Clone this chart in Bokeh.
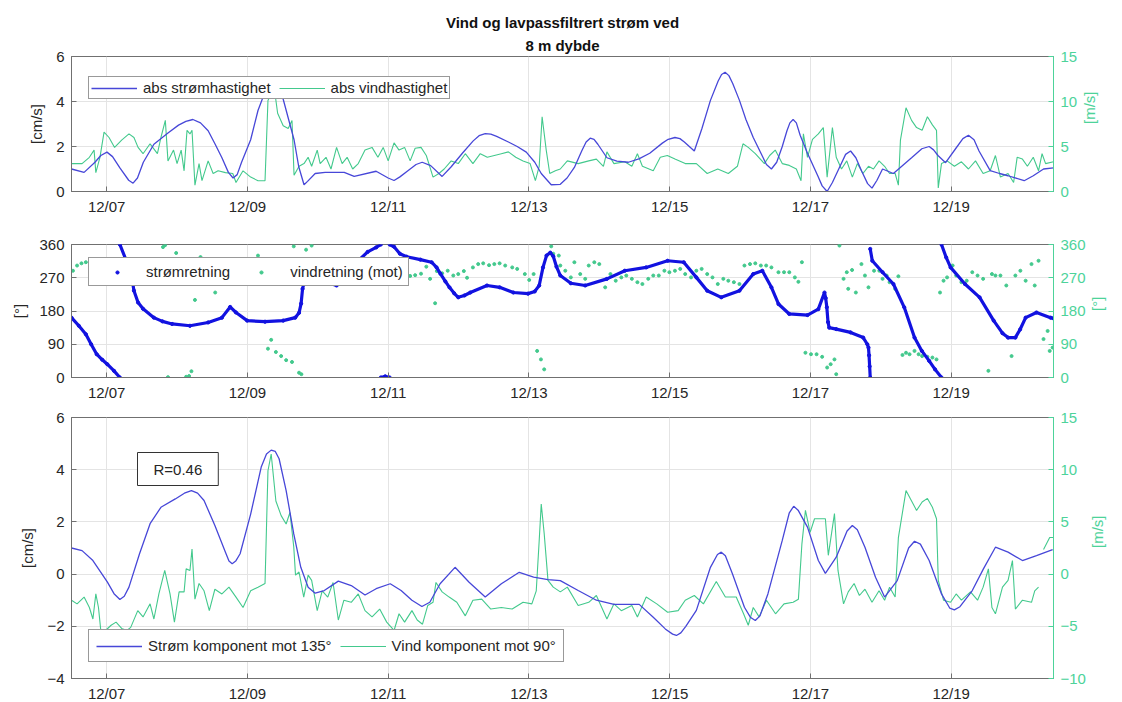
import math
from bokeh.plotting import figure
from bokeh.models import (Range1d, LinearAxis, FixedTicker, Legend, LegendItem,
                          Label, Title)
from bokeh.layouts import column
from bokeh.embed import file_html
from bokeh.resources import INLINE

NAN = float("nan")

# ---------------- data (time = hours since 12/06 00:00) ----------------
tick_hours = [24, 72, 120, 168, 216, 264, 312]
tick_labels = ["12/07", "12/09", "12/11", "12/13", "12/15", "12/17", "12/19"]
x_start, x_end = 12.0, 346.9

# Panel 1: absolute current speed [cm/s]
cur_speed_t = [12.0, 16.3, 20.0, 22.0, 24.1, 26.0, 28.5, 31.5, 33.0, 34.5, 36.5, 40.1, 44.9, 48.5,
               51.0, 53.4, 56.0, 58.6, 61.0, 63.3, 65.5, 67.1, 68.5, 70.0, 73.1, 75.6, 78.5, 81.1,
               84.2, 87.9, 89.5, 91.3, 92.5, 95.1, 98.5, 105.0, 108.4, 115.9, 120.0, 122.0, 124.0,
               126.5, 129.5, 131.6, 134.5, 138.4, 141.5, 145.3, 149.0, 151.0, 153.1, 155.0, 157.0,
               161.0, 164.0, 167.1, 170.0, 172.2, 175.6, 178.7, 181.0, 183.5, 186.0, 187.5, 188.9,
               190.2, 191.5, 194.6, 198.0, 201.9, 205.5, 209.2, 213.5, 215.5, 217.8, 219.5, 221.0,
               224.4, 227.0, 229.9, 232.5, 233.7, 234.9, 236.2, 237.5, 239.8, 242.0, 244.5, 247.5,
               249.0, 250.7, 252.5, 254.4, 256.0, 257.0, 258.1, 259.2, 260.5, 263.0, 266.5, 268.0,
               269.7, 271.5, 273.9, 276.0, 277.7, 279.5, 281.5, 283.5, 285.0, 286.7, 288.6, 292.3,
               298.5, 302.0, 304.5, 306.0, 307.5, 310.1, 313.5, 316.0, 317.9, 319.8, 321.5, 325.3,
               328.5, 331.4, 336.9, 340.0, 343.5, 346.9]
cur_speed = [1.0, 0.85, 1.3, 1.6, 1.75, 1.55, 1.05, 0.5, 0.37, 0.6, 1.3, 2.1, 2.6, 2.95,
             3.12, 3.2, 3.05, 2.7, 2.1, 1.5, 0.85, 0.6, 0.75, 1.3, 2.3, 3.6, 4.6, 4.9,
             4.1, 2.3, 1.1, 0.3, 0.45, 0.8, 0.85, 0.85, 0.67, 0.9, 0.6, 0.49, 0.65,
             0.9, 1.2, 1.3, 1.15, 0.67, 1.1, 1.7, 2.25, 2.48, 2.57, 2.55, 2.45,
             2.2, 2.0, 1.75, 1.3, 0.8, 0.3, 0.32, 0.6, 1.07, 1.8, 2.2, 2.37,
             2.32, 2.1, 1.5, 1.35, 1.3, 1.45, 1.7, 2.15, 2.32, 2.4, 2.35, 2.2,
             1.8, 2.8, 4.05, 4.9, 5.2, 5.3, 5.15, 4.8, 4.05, 3.2, 2.4, 1.6,
             1.2, 1.0, 1.3, 2.0, 2.7, 3.05, 3.2, 3.05, 2.5, 1.7, 0.7, 0.25,
             0.0, 0.4, 1.07, 1.65, 1.8, 1.5, 0.9, 0.35, 0.15, 0.5, 1.0, 0.8,
             1.5, 1.9, 2.0, 1.85, 1.6, 1.28, 1.9, 2.35, 2.5, 2.3, 1.8, 0.93,
             0.8, 0.7, 0.48, 0.7, 1.0, 1.05]

# Panel 1: absolute wind speed [m/s]
wind_speed_t = [12.0, 15.6, 18.1, 19.7, 20.3, 21.7, 23.1, 24.8, 26.7, 29.1, 31.6, 33.3, 34.7, 36.4,
                38.8, 41.3, 42.5, 44.0, 44.9, 46.8, 48.0, 49.4, 50.4, 51.4, 52.4, 53.1, 54.1, 55.5,
                56.5, 58.6, 60.3, 62.0, 64.5, 67.0, 68.1, 70.5, 73.1, 75.6, 78.0, 79.0, 81.1, 82.3,
                84.2, 85.9, 87.2, 87.9, 89.6, 91.3, 92.7, 93.9, 95.8, 96.8, 98.8, 100.5, 102.4, 104.3,
                106.0, 107.9, 109.8, 112.1, 114.5, 116.5, 118.3, 120.0, 122.0, 123.7, 125.6, 127.5,
                129.2, 131.2, 133.0, 135.3, 137.3, 139.1, 141.5, 143.9, 146.3, 148.9, 151.4, 153.8,
                156.2, 158.6, 161.0, 163.5, 166.0, 168.4, 170.2, 171.5, 172.5, 173.9, 175.1, 177.0,
                178.7, 181.1, 184.8, 188.4, 191.0, 193.4, 194.6, 197.0, 200.7, 203.1, 205.0, 206.7,
                210.4, 212.8, 215.2, 217.8, 221.3, 225.1, 228.8, 232.4, 236.0, 239.1, 241.0, 242.8,
                245.2, 248.3, 250.1, 252.0, 254.4, 256.8, 259.2, 260.8, 261.6, 263.0, 264.7, 266.7,
                268.4, 269.7, 271.5, 272.8, 274.6, 276.4, 278.3, 280.0, 281.9, 283.8, 285.5, 287.4,
                289.3, 291.0, 292.9, 294.0, 294.7, 296.6, 298.5, 300.2, 302.1, 303.9, 305.6, 307.0,
                307.6, 308.7, 310.6, 313.1, 315.5, 317.9, 320.3, 322.9, 325.3, 327.1, 328.8, 331.4,
                333.3, 334.5, 336.3, 338.0, 340.0, 341.8, 343.0, 344.2, 346.9]
wind_speed = [3.1, 3.1, 3.8, 4.6, 2.1, 3.8, 6.6, 6.0, 4.9, 5.7, 6.4, 6.0, 4.9, 4.2,
              5.3, 4.2, 6.0, 7.9, 3.4, 4.6, 3.1, 4.6, 2.3, 6.8, 6.4, 6.8, 0.7, 3.1,
              1.2, 3.4, 2.0, 2.3, 2.1, 2.0, 1.0, 2.3, 1.6, 1.2, 1.2, 10.1, 11.6, 8.7,
              7.3, 7.0, 7.9, 1.8, 2.8, 3.1, 3.8, 2.8, 4.6, 3.1, 3.8, 2.5, 4.9, 3.1,
              3.8, 2.5, 3.1, 4.6, 4.9, 3.8, 4.9, 3.4, 5.4, 4.6, 4.9, 3.4,
              4.8, 4.9, 4.0, 1.6, 2.0, 2.5, 3.4, 3.1, 4.2, 3.1, 4.2, 3.8,
              4.0, 4.2, 4.4, 3.8, 3.4, 3.1, 1.2, 2.8, 8.3, 4.6, 2.0, 2.3,
              2.5, 3.4, 3.1, 3.4, 3.6, 2.8, 4.4, 3.1, 3.3, 2.8, 4.2, 2.8,
              2.3, 3.8, 4.0, 3.6, 3.1, 3.1, 2.0, 2.5, 2.0, 2.8, 5.3, 4.9,
              4.2, 3.1, 4.0, 4.6, 3.1, 2.9, 2.5, 1.2, 6.4, 3.8, 5.8, 6.4,
              7.1, 1.6, 7.1, 3.8, 2.5, 3.4, 1.6, 3.1, 2.0, 2.8, 2.5, 3.4,
              2.8, 2.0, 2.0, 0.7, 5.7, 9.3, 7.9, 7.1, 6.8, 8.3, 7.4, 6.8,
              0.4, 3.1, 3.4, 2.8, 3.3, 2.5, 3.4, 2.0, 2.3, 4.0, 1.6, 2.0,
              1.0, 3.8, 3.6, 2.8, 3.8, 2.3, 4.2, 3.1, 3.3]

# Panel 2: current direction [deg] (NaN separates wrap-around segments)
cur_dir_t = [12.0, 14.5, 16.9, 18.7, 20.6, 22.5, 24.2, 26.5, 28.5, 28.5,
             28.5, 30.5, 32.2, 33.3, 34.7, 36.4, 40.1, 43.0, 46.3, 52.4, 58.6, 63.3, 66.1, 68.1,
             71.9, 78.0, 84.2, 88.3, 89.6, 90.3, 90.8, 91.5, 96.0, 102.4, 106.0, 109.8, 113.0,
             115.9, 117.5, 117.5,
             117.5, 119.0, 120.5, 120.5,
             120.5, 122.0, 124.0, 126.3, 131.0, 134.8, 136.5, 137.8, 139.5, 140.9, 142.5, 143.9,
             146.0, 148.0, 153.7, 158.0, 162.7, 167.7, 170.0, 171.5, 172.8, 174.0, 175.3, 176.3,
             177.4, 178.7, 182.3, 187.2, 194.6, 200.7, 208.0, 215.3, 220.8, 225.1, 228.8, 233.6,
             239.8, 244.5, 247.6, 250.7, 253.1, 256.8, 263.0, 266.7, 268.8, 269.2, 269.6, 270.0,
             270.4, 272.8, 277.7, 282.0, 283.4, 283.8, 284.0, 284.2, 284.4, 284.4,
             284.4, 285.1, 288.6, 292.3, 296.0, 299.5, 302.0, 304.5, 306.5, 308.7, 308.7,
             308.7, 310.3, 311.8, 316.7, 321.7, 326.5, 329.5, 331.4, 333.9, 335.5, 337.4, 341.1,
             345.9, 346.9]
cur_dir = [162, 140, 117, 90, 63, 48, 36, 18, 0, NAN,
           360, 320, 289, 235, 203, 186, 162, 152, 145, 140, 149, 162, 191, 176,
           154, 151, 154, 162, 175, 200, 240, 262, 265, 249, 275, 316, 340,
           352, 360, NAN,
           0, 3, 0, NAN,
           360, 354, 335, 327, 319, 312, 298, 281, 260, 244, 228, 217,
           222, 230, 249, 244, 230, 227, 233, 249, 298, 330, 338, 328,
           300, 276, 255, 249, 267, 289, 298, 316, 312, 271, 235, 217,
           235, 280, 289, 244, 199, 172, 169, 185, 230, 215, 190, 150,
           135, 131, 122, 108, 90, 81, 60, 30, 0, NAN,
           348, 316, 285, 253, 190, 108, 72, 45, 22, 0, NAN,
           360, 325, 298, 253, 217, 154, 120, 108, 108, 130, 162, 176,
           162, 160]

# Panel 2: wind direction (towards) [deg]
wind_dir_t = [12.5, 13.9, 15.4, 16.9, 43.2, 43.9, 44.9, 47.7, 51.1, 52.1, 52.9, 54.1, 56.0, 61.0,
              75.6, 79.0, 80.1, 81.7, 83.5, 85.2, 87.2, 87.8, 89.6, 90.4, 92.0, 93.9,
              127.5, 129.2, 131.2, 133.0, 134.3, 136.0, 136.6, 138.4, 140.3, 142.2, 143.9, 145.8,
              146.9, 148.9, 150.7, 152.4, 154.4, 156.2, 158.0, 159.9, 162.3, 164.0, 166.6, 168.1,
              169.6, 170.8, 172.1, 173.2, 175.6, 176.3, 178.2, 178.7, 180.4, 182.3, 183.5, 185.5,
              187.2, 188.4, 190.3, 192.0, 194.0, 195.8, 197.6, 199.5, 201.2, 203.1, 205.0, 206.7,
              208.7, 210.4, 212.3, 214.2, 215.9, 217.8, 219.6, 221.3, 223.3, 225.1, 226.9, 228.8,
              230.6, 232.4, 234.3, 236.0, 237.9, 239.8, 241.5, 243.4, 245.2, 247.1, 248.9, 250.7,
              253.1, 255.0, 256.8, 258.7, 259.9, 261.1, 262.3, 264.2, 266.1, 268.0, 269.7, 270.9,
              272.2, 272.8, 273.9, 275.3, 276.4, 276.9, 278.2, 279.5, 281.4, 282.6, 283.8, 285.7,
              287.5, 288.6, 290.0, 291.0, 292.9, 294.0, 295.4, 296.6, 297.8, 299.5, 300.9, 302.1,
              303.9, 305.6, 307.0, 308.2, 309.4, 310.6, 312.5, 313.7, 315.5, 317.3, 319.2, 321.0,
              322.9, 324.7, 325.9, 327.1, 328.8, 330.8, 332.6, 333.9, 335.6, 337.4, 339.4, 340.5,
              341.8, 343.5, 344.9, 345.6, 346.6]
wind_dir = [289, 303, 309, 312, 353, 358, 1, 337, 2, 4, 17, 210, 326, 230,
            330, 78, 102, 69, 58, 47, 42, 355, 13, 9, 346, 357,
            275, 277, 281, 300, 267, 201, 288, 282, 289, 276, 280, 288,
            270, 298, 307, 309, 304, 307, 309, 303, 298, 294, 280, 264,
            280, 72, 49, 22, 355, 335, 330, 303, 289, 271, 312, 280,
            267, 303, 312, 307, 244, 280, 262, 271, 276, 267, 258, 253,
            267, 276, 276, 289, 285, 289, 294, 280, 271, 289, 294, 280,
            271, 253, 267, 262, 258, 253, 303, 307, 309, 303, 303, 298,
            285, 285, 285, 271, 259, 312, 67, 63, 63, 56, 27, 36,
            49, 9, 357, 267, 285, 240, 291, 230, 307, 276, 244, 289,
            289, 267, 276, 258, 240, 274, 61, 67, 63, 72, 63, 58,
            56, 54, 49, 230, 262, 271, 303, 276, 258, 262, 285, 276,
            267, 18, 280, 276, 276, 249, 58, 276, 289, 262, 307, 249,
            316, 104, 126, 72, 81]

# Panel 3: current component towards 135 deg [cm/s]
cur_comp_t = [12.0, 15.6, 19.3, 24.2, 26.5, 28.5, 30.0, 31.6, 35.2, 38.8, 42.5, 47.4, 50.5, 52.9,
              55.0, 57.2, 60.9, 64.5, 65.7, 66.8, 68.0, 69.5, 73.1, 76.7, 78.5, 80.1, 81.5, 82.8,
              85.2, 87.8, 90.2, 92.7, 95.1, 98.2, 103.0, 107.4, 112.1, 115.9, 120.7, 124.4, 128.1,
              131.5, 134.2, 137.7, 142.8, 147.6, 153.1, 158.6, 164.7, 169.6, 174.5, 178.7, 184.8,
              191.0, 197.0, 205.6, 210.4, 214.5, 217.0, 218.3, 219.8, 221.5, 225.1, 229.9, 232.3,
              233.6, 235.0, 237.4, 241.5, 243.5, 245.2, 246.8, 249.5, 254.4, 256.8, 258.3, 259.8,
              263.0, 266.7, 269.1, 272.8, 276.5, 278.3, 280.0, 282.6, 286.2, 289.3, 293.6, 297.5,
              299.5, 301.5, 304.5, 308.7, 311.5, 313.1, 315.0, 319.2, 323.0, 327.1, 331.4, 336.3,
              341.1, 346.6]
cur_comp = [1.0, 0.9, 0.52, -0.3, -0.75, -0.97, -0.85, -0.5, 0.78, 1.93, 2.56, 2.88, 3.1, 3.2,
            3.1, 2.82, 1.86, 0.84, 0.5, 0.4, 0.5, 0.78, 2.3, 4.1, 4.6, 4.75, 4.7, 4.42,
            3.2, 1.54, 0.26, -0.5, -0.73, -0.63, -0.27, -0.44, -0.8, -0.56, -0.37, -0.63, -1.0,
            -1.24, -1.08, -0.37, 0.26, -0.31, -0.88, -0.37, 0.07, -0.12, -0.21, -0.25, -0.63,
            -1.0, -1.16, -1.16, -1.65, -2.1, -2.3, -2.35, -2.25, -2.0, -1.39, 0.26, 0.75,
            0.84, 0.7, 0.01, -1.27, -1.65, -1.78, -1.6, -0.76, 1.29, 2.35, 2.6, 2.45,
            1.8, 0.52, 0.03, 0.65, 1.65, 1.86, 1.7, 1.03, -0.12, -0.88, -0.25, 1.0,
            1.26, 1.15, 0.52, -0.76, -1.3, -1.37, -1.25, -0.63, 0.2, 1.03, 0.84, 0.52,
            0.71, 0.94]

# Panel 3: wind component towards 90 deg [m/s] (NaN = data gap)
wind_comp_t = [12.0, 13.9, 16.3, 18.1, 19.3, 20.3, 21.2, 22.1, 23.6, 25.5, 27.2, 29.1, 30.9, 32.2,
               34.6, 36.4, 38.8, 40.1, 41.8, 43.8, 45.6, 47.1, 48.7, 50.4, 51.1, 52.4, 53.1, 54.1,
               55.5, 57.2, 59.0, 60.9, 63.3, 65.7, 68.1, 70.5, 73.1, 75.6, 78.0, 79.0, 80.1, 81.7,
               83.5, 85.2, 86.5, 87.8, 88.4, 89.6, 91.2, 92.7, 93.9, 95.8, 97.5, 99.4, 101.2, 103.0,
               104.9, 107.4, 109.8, 112.1, 114.5, 117.1, 119.5, 122.0, 123.7, 125.6, 128.1, 129.9,
               131.7, 133.5, 135.3, 136.3, 138.4, 140.8, 143.4, 146.3, 148.9, 151.9, 155.0, 158.6,
               162.3, 166.0, 169.0, 170.5, 171.5, 172.2, 173.2, 174.5, 176.3, 178.7, 181.1, 184.8,
               188.4, 191.0, 194.6, 197.0, 199.5, 203.1, 205.0, 208.0, 211.6, 215.3, 218.9, 221.3,
               224.4, 227.5, 231.9, 235.0, 238.7, 241.2, 242.8, 244.5, 246.5, 249.0, 252.1, 255.0,
               258.1, 259.9, 261.1, 262.3, 263.9, 265.4, 269.1, 270.1, 272.2, 273.4, 275.3, 276.9,
               278.9, 280.7, 282.6, 285.0, 287.4, 289.3, 291.0, 292.9, 294.0, 296.6, 298.5, 300.2,
               302.1, 303.9, 305.6, 307.0, 307.6, 309.4, 311.8, 313.7, 315.5, 318.6, 321.0, 322.9,
               324.7, 325.9, 327.1, 329.5, 331.4, 332.9, 333.9, 336.3, 339.4, 340.5, 341.8, 342.5,
               343.5, 345.6, 346.9]
wind_comp = [-2.5, -2.85, -2.2, -3.2, -4.3, -1.9, -3.2, -5.7, -5.4, -4.9, -4.6, -5.2, -5.4, -5.1,
             -3.5, -4.1, -2.85, -4.3, -1.9, 0.35, -1.9, -4.6, -1.7, -1.7, 0.5, 0.35, 2.4, -2.4,
             -0.9, -1.6, -3.5, -1.45, -1.9, -1.25, -2.2, -3.2, -1.6, -1.25, -0.9, 9.9, 11.5, 7.0,
             5.6, 4.8, 5.9, 2.6, -0.1, 0.2, -2.2, -0.1, -0.6, -3.5, -1.6, -2.2, -0.8, -4.4,
             -2.5, -2.7, -1.9, -3.5, -4.1, -3.35, -4.6, -5.4, -3.8, -4.6, -3.5, -4.4,
             -4.8, -3.0, -2.7, -0.8, -1.7, -2.2, -2.7, -4.0, -2.5, -2.4, -3.35, -3.2,
             -3.35, -2.7, -2.85, -1.6, 3.2, 6.7, 3.9, -0.6, -1.25, -1.7, -1.25, -3.0,
             -2.7, -2.05, -4.3, -2.85, -3.5, -3.0, -4.1, -2.2, -2.85, -3.65, -3.5, -2.5,
             -2.05, -2.85, -0.7, -2.2, -2.2, -3.8, -4.9, -3.2, -4.1, -2.5, -3.8, -2.85,
             -2.7, -2.4, 2.9, 6.1, 4.0, 5.3, 5.3, 1.8, 5.8, 0.35, -2.85, -1.7,
             -0.9, -2.05, -1.45, -2.7, -1.6, -2.5, -1.25, -2.2, 3.5, 8.0, 7.0, 6.1,
             6.9, 7.25, 6.4, 5.3, -0.6, -2.5, -2.7, -1.9, -2.5, -1.7, -2.5, -1.25,
             0.5, -3.2, -3.8, -1.25, -0.6, 1.3, -3.35, -2.5, -2.7, -1.6, -1.25, NAN,
             2.35, 3.5, 3.5]

# ---------------- styling ----------------
FONT = "Liberation Sans"
BLUE_LINE = "#4747d8"
BLUE_DOT = "#1212e0"
GREEN = "#43c98d"
GREEN_AX = "#4dd39a"
TEXT = "#262626"
AX_GRAY = "#707070"
GRID = "#e4e4e4"
FRAME_W = 982


def make_fig(fh, btop, bbottom, yr, yr2, yt, yt2, ylab, ylab2):
    p = figure(frame_width=FRAME_W, frame_height=fh,
               x_range=Range1d(x_start, x_end), y_range=Range1d(*yr),
               output_backend="svg", toolbar_location=None,
               min_border_left=71, min_border_right=69,
               min_border_top=btop, min_border_bottom=bbottom)
    p.extra_y_ranges = {"r": Range1d(*yr2)}
    p.background_fill_color = "white"
    p.border_fill_color = "white"
    p.outline_line_color = AX_GRAY
    xt = FixedTicker(ticks=tick_hours)
    ytk = FixedTicker(ticks=yt)
    p.xaxis.ticker = xt
    p.xgrid.ticker = xt
    p.yaxis.ticker = ytk
    p.ygrid.ticker = ytk
    p.xaxis.major_label_overrides = {h: l for h, l in zip(tick_hours, tick_labels)}
    p.xgrid.grid_line_color = GRID
    p.ygrid.grid_line_color = GRID
    for ax in list(p.xaxis) + list(p.yaxis):
        ax.major_tick_in = 5
        ax.major_tick_out = 0
        ax.minor_tick_line_color = None
        ax.axis_line_color = AX_GRAY
        ax.major_tick_line_color = AX_GRAY
        ax.major_label_text_font = FONT
        ax.major_label_text_font_size = "15px"
        ax.major_label_text_color = TEXT
        ax.axis_label_text_font = FONT
        ax.axis_label_text_font_size = "15px"
        ax.axis_label_text_font_style = "normal"
        ax.axis_label_text_color = TEXT
    p.xaxis.major_label_standoff = 6
    p.yaxis.major_label_standoff = 7
    p.yaxis.axis_label = ylab
    p.yaxis.axis_label_standoff = 8
    ax2 = LinearAxis(y_range_name="r", ticker=FixedTicker(ticks=yt2), axis_label=ylab2,
                     major_tick_in=5, major_tick_out=0, minor_tick_line_color=None,
                     axis_line_color=GREEN_AX, major_tick_line_color=GREEN_AX,
                     major_label_text_color=GREEN_AX, major_label_text_font=FONT,
                     major_label_text_font_size="15px", major_label_standoff=7,
                     axis_label_text_color=GREEN_AX, axis_label_text_font=FONT,
                     axis_label_text_font_size="15px", axis_label_text_font_style="normal",
                     axis_label_standoff=9)
    try:
        ax2.axis_label_orientation = math.pi / 2
    except Exception:
        pass
    p.add_layout(ax2, "right")
    return p


def make_legend(items, loc, pad, gh=16):
    return Legend(items=items, location=loc, orientation="horizontal",
                  glyph_width=46, glyph_height=gh, label_height=16, label_standoff=6,
                  spacing=8, padding=pad, margin=0,
                  label_text_font=FONT, label_text_font_size="15px", label_text_color=TEXT,
                  border_line_color="#333333", border_line_width=1,
                  background_fill_color="white", background_fill_alpha=1.0)


# ---------------- panel 1 ----------------
p1 = make_fig(135, 56, 31, (0, 6), (0, 15), [0, 2, 4, 6], [0, 5, 10, 15], "[cm/s]", "[m/s]")
r_ws = p1.line(wind_speed_t, wind_speed, color=GREEN, line_width=1.1, y_range_name="r")
r_cs = p1.line(cur_speed_t, cur_speed, color=BLUE_LINE, line_width=1.3)
p1.add_layout(make_legend([LegendItem(label="abs strømhastighet", renderers=[r_cs]),
                           LegendItem(label="abs vindhastighet", renderers=[r_ws])], (17, 92), 2))
p1.add_layout(Title(text="8 m dybde", align="center", text_font=FONT, text_font_size="15px",
                    text_font_style="bold", text_color="#111111", standoff=6), "above")
p1.add_layout(Title(text="Vind og lavpassfiltrert strøm ved", align="center", text_font=FONT,
                    text_font_size="15px", text_font_style="bold", text_color="#111111",
                    standoff=2), "above")

# ---------------- panel 2 ----------------
p2 = make_fig(133, 22, 27, (0, 360), (0, 360), [0, 90, 180, 270, 360], [0, 90, 180, 270, 360],
              "[°]", "[°]")
r_wd = p2.scatter(wind_dir_t, wind_dir, size=3, color=GREEN, y_range_name="r")
p2.line(cur_dir_t, cur_dir, color=BLUE_DOT, line_width=3.2)
r_cd = p2.scatter(cur_dir_t, cur_dir, size=3.2, color=BLUE_DOT)
p2.add_layout(make_legend([LegendItem(label="strømretning", renderers=[r_cd]),
                           LegendItem(label="vindretning (mot)", renderers=[r_wd])], (17, 91), 5,
                          gh=8))

# ---------------- panel 3 ----------------
p3 = make_fig(261, 13, 24, (-4, 6), (-10, 15), [-4, -2, 0, 2, 4, 6], [-10, -5, 0, 5, 10, 15],
              "[cm/s]", "[m/s]")
r_wc = p3.line(wind_comp_t, wind_comp, color=GREEN, line_width=1.1, y_range_name="r")
r_cc = p3.line(cur_comp_t, cur_comp, color=BLUE_LINE, line_width=1.3)
p3.add_layout(make_legend([LegendItem(label="Strøm komponent mot 135°", renderers=[r_cc]),
                           LegendItem(label="Vind komponent mot 90°", renderers=[r_wc])], (17, 16), 7))
p3.add_layout(Label(x=66, y=193, x_units="screen", y_units="screen", text="R=0.46",
                    text_font=FONT, text_font_size="15px", text_color=TEXT,
                    border_line_color="#333333", border_line_width=1,
                    background_fill_color="white", padding=(16, 8)))

layout = column(p1, p2, p3, spacing=0)
open("out.html", "w").write(file_html(layout, INLINE))
